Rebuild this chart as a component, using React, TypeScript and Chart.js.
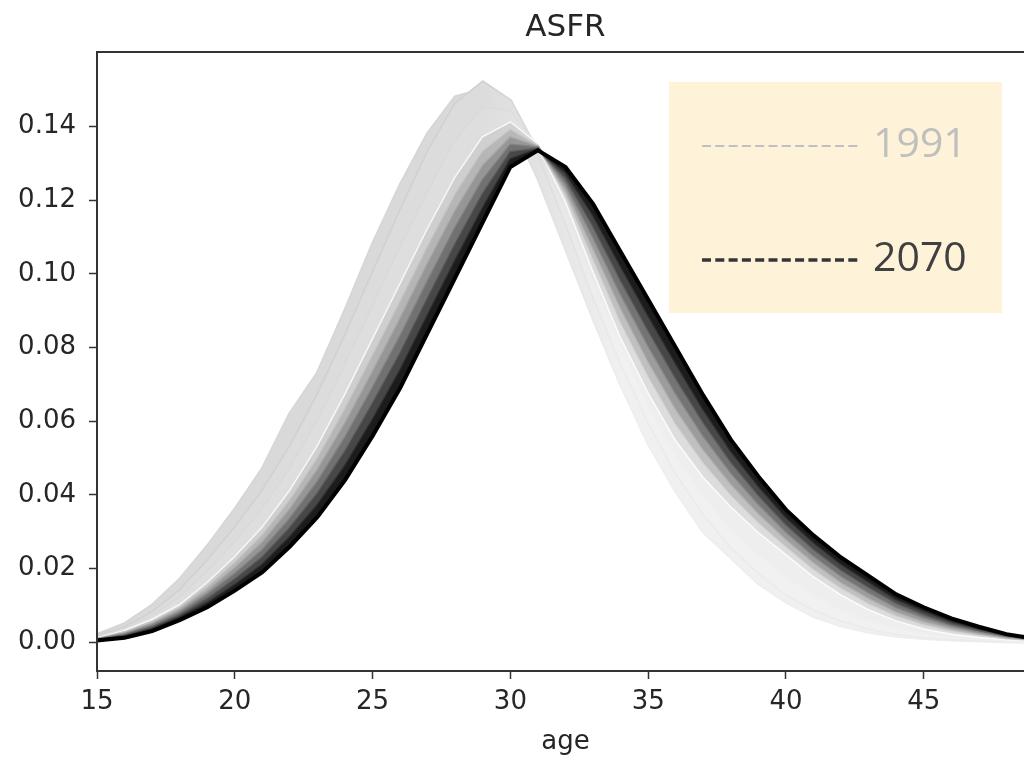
import React, { useEffect, useRef } from 'react';
import { Chart, registerables } from 'chart.js';

Chart.register(...registerables);

// ---- data ----
const ages = [15, 16, 17, 18, 19, 20, 21, 22, 23, 24, 25, 26, 27, 28, 29, 30, 31, 32, 33, 34, 35, 36, 37, 38, 39, 40, 41, 42, 43, 44, 45, 46, 47, 48, 49];
const xTicks = [15, 20, 25, 30, 35, 40, 45];
const yTicks = [0, 0.02, 0.04, 0.06, 0.08, 0.1, 0.12, 0.14];
const legendYears = ['1991', '2070'];

const asfr1991 = [0.002, 0.005, 0.010, 0.017, 0.026, 0.036, 0.047, 0.062, 0.073, 0.090, 0.108, 0.124, 0.138, 0.148, 0.150, 0.142, 0.126, 0.107, 0.088, 0.070, 0.054, 0.041, 0.030, 0.023, 0.016, 0.011, 0.007, 0.0045, 0.0028, 0.0017, 0.0011, 0.0007, 0.0004, 0.0002, 0.0001];
const asfr1995 = [0.0015, 0.004, 0.008, 0.014, 0.022, 0.031, 0.041, 0.053, 0.067, 0.083, 0.100, 0.117, 0.133, 0.146, 0.152, 0.147, 0.133, 0.114, 0.094, 0.076, 0.060, 0.046, 0.035, 0.026, 0.019, 0.013, 0.009, 0.006, 0.0038, 0.0024, 0.0015, 0.0009, 0.0006, 0.0003, 0.0002];
const asfr2000 = [0.0013, 0.0035, 0.007, 0.012, 0.019, 0.027, 0.036, 0.047, 0.060, 0.075, 0.091, 0.107, 0.122, 0.136, 0.145, 0.144, 0.134, 0.118, 0.099, 0.081, 0.065, 0.051, 0.040, 0.031, 0.024, 0.018, 0.013, 0.009, 0.006, 0.004, 0.0026, 0.0016, 0.001, 0.0006, 0.0003];
const asfr2005 = [0.001, 0.003, 0.006, 0.010, 0.016, 0.023, 0.031, 0.041, 0.053, 0.067, 0.082, 0.097, 0.112, 0.126, 0.137, 0.141, 0.135, 0.120, 0.101, 0.083, 0.068, 0.055, 0.045, 0.037, 0.030, 0.024, 0.018, 0.013, 0.009, 0.006, 0.0038, 0.0024, 0.0015, 0.0009, 0.0005];
const asfr2015 = [0.0009, 0.0027, 0.0055, 0.0093, 0.0149, 0.0215, 0.029, 0.0385, 0.0498, 0.0632, 0.0777, 0.0923, 0.1073, 0.1215, 0.1332, 0.139, 0.1347, 0.1215, 0.104, 0.0868, 0.0722, 0.0592, 0.0487, 0.040, 0.0325, 0.026, 0.0198, 0.0147, 0.0105, 0.0072, 0.0048, 0.0031, 0.002, 0.0011, 0.0006];
const asfr2025 = [0.0008, 0.0024, 0.005, 0.0087, 0.0138, 0.020, 0.027, 0.036, 0.0467, 0.0593, 0.0733, 0.0877, 0.1027, 0.117, 0.1293, 0.137, 0.1345, 0.123, 0.107, 0.0907, 0.0763, 0.0633, 0.0523, 0.043, 0.035, 0.028, 0.0217, 0.0163, 0.012, 0.0083, 0.0057, 0.0038, 0.0024, 0.0013, 0.0007];
const asfr2035 = [0.00075, 0.0021, 0.0045, 0.008, 0.0128, 0.0185, 0.025, 0.0335, 0.0435, 0.0555, 0.069, 0.083, 0.098, 0.1125, 0.1255, 0.135, 0.1343, 0.1245, 0.110, 0.0945, 0.0805, 0.0675, 0.056, 0.046, 0.0375, 0.030, 0.0235, 0.018, 0.0135, 0.0095, 0.0067, 0.0045, 0.0029, 0.0016, 0.0008];
const asfr2045 = [0.0007, 0.0018, 0.004, 0.0073, 0.0117, 0.017, 0.023, 0.031, 0.0403, 0.0517, 0.0647, 0.0783, 0.0933, 0.108, 0.1217, 0.133, 0.134, 0.126, 0.113, 0.0983, 0.0847, 0.0717, 0.0597, 0.049, 0.040, 0.032, 0.0253, 0.0197, 0.015, 0.0107, 0.0076, 0.0051, 0.0033, 0.0018, 0.0008];
const asfr2055 = [0.0006, 0.0015, 0.0035, 0.0067, 0.0106, 0.0155, 0.021, 0.0285, 0.0372, 0.0478, 0.0603, 0.0737, 0.0887, 0.1035, 0.1178, 0.131, 0.1338, 0.1275, 0.116, 0.1022, 0.0888, 0.0758, 0.0633, 0.052, 0.0425, 0.034, 0.0272, 0.0213, 0.0165, 0.0118, 0.0086, 0.0058, 0.0038, 0.002, 0.0009];
const asfr2070 = [0.0005, 0.0012, 0.003, 0.006, 0.0095, 0.014, 0.019, 0.026, 0.034, 0.044, 0.056, 0.069, 0.084, 0.099, 0.114, 0.129, 0.1335, 0.129, 0.119, 0.106, 0.093, 0.080, 0.067, 0.055, 0.045, 0.036, 0.029, 0.023, 0.018, 0.013, 0.0095, 0.0065, 0.0042, 0.0022, 0.001];

const seriesYears = ['1991', '1995', '2000', '2005', '2015', '2025', '2035', '2045', '2055', '2070'];
const series = [asfr1991, asfr1995, asfr2000, asfr2005, asfr2015, asfr2025, asfr2035, asfr2045, asfr2055, asfr2070];

// ---- styles ----
// [left-side colour, right-side colour] for each curve (faded on the falling side)
const lineColors: [string, string][] = [
  ['#d6d6d6', '#eeeeee'],
  ['#d1d1d1', '#ebebeb'],
  ['#d9d9d9', '#efefef'],
  ['#f7f7f7', '#fbfbfb'],
  ['#c6c6c6', '#d6d6d6'],
  ['#a6a6a6', '#b2b2b2'],
  ['#828282', '#8a8a8a'],
  ['#5a5a5a', '#5e5e5e'],
  ['#2e2e2e', '#2e2e2e'],
  ['#000000', '#000000'],
];
const fillColors: [string, string][] = [
  ['rgba(0,0,0,0)', 'rgba(0,0,0,0)'],
  ['#d9d9d9', '#f0f0f0'],
  ['#dcdcdc', '#f1f1f1'],
  ['#dedede', '#eeeeee'],
  ['#cfcfcf', '#dddddd'],
  ['#b6b6b6', '#c0c0c0'],
  ['#969696', '#9c9c9c'],
  ['#717171', '#747474'],
  ['#474747', '#474747'],
  ['#1c1c1c', '#1c1c1c'],
];
const lineWidths = [3.5, 3.5, 3.5, 3, 2.5, 2.5, 2.5, 2.5, 2.5, 4];
const fadeFromAge = 29;
const fadeToAge = 34;

const FONT = "'DejaVu Sans', sans-serif";
const CANVAS_W = 1100;
const CANVAS_H = 762;

function sideGradient(pair: [string, string]) {
  return (c: any) => {
    const chart = c.chart;
    if (!chart.chartArea || pair[0] === pair[1]) return pair[0];
    const xs = chart.scales.x;
    const g = chart.ctx.createLinearGradient(xs.getPixelForValue(fadeFromAge), 0, xs.getPixelForValue(fadeToAge), 0);
    g.addColorStop(0, pair[0]);
    g.addColorStop(1, pair[1]);
    return g;
  };
}

const framePlugin = {
  id: 'frame',
  afterDatasetsDraw(chart: any) {
    const { ctx, chartArea } = chart;
    ctx.save();
    ctx.strokeStyle = '#333333';
    ctx.lineWidth = 2;
    ctx.strokeRect(chartArea.left, chartArea.top, chartArea.right - chartArea.left, chartArea.bottom - chartArea.top);
    ctx.restore();
  },
};

const titlePlugin = {
  id: 'asfrTitle',
  afterDraw(chart: any) {
    const { ctx, chartArea } = chart;
    ctx.save();
    ctx.font = `31px ${FONT}`;
    ctx.fillStyle = '#262626';
    ctx.textAlign = 'center';
    ctx.textBaseline = 'alphabetic';
    ctx.fillText('ASFR', (chartArea.left + chartArea.right) / 2, 36);
    ctx.restore();
  },
};

const legendBoxPlugin = {
  id: 'legendBox',
  afterDraw(chart: any) {
    const { ctx } = chart;
    ctx.save();
    ctx.fillStyle = '#fef2d8';
    ctx.fillRect(669, 82, 333, 231);
    const rows = [
      { y: 146, base: 157, line: '#c0c0c0', textColor: '#bfbfbf', width: 2, text: legendYears[0] },
      { y: 260, base: 271, line: '#363636', textColor: '#404040', width: 3.5, text: legendYears[1] },
    ];
    rows.forEach((r) => {
      ctx.strokeStyle = r.line;
      ctx.lineWidth = r.width;
      ctx.setLineDash([9, 4.3]);
      ctx.beginPath();
      ctx.moveTo(702, r.y);
      ctx.lineTo(860, r.y);
      ctx.stroke();
      ctx.setLineDash([]);
      ctx.font = "41px 'Open Sans', sans-serif";
      ctx.fillStyle = r.textColor;
      ctx.textAlign = 'left';
      ctx.textBaseline = 'alphabetic';
      ctx.fillText(r.text, 873, r.base);
    });
    ctx.restore();
  },
};

export default function App() {
  const ref = useRef<HTMLCanvasElement | null>(null);

  useEffect(() => {
    if (!ref.current) return;
    const datasets = series.map((vals, i) => ({
      label: seriesYears[i],
      data: ages.map((a, j) => ({ x: a, y: vals[j] })),
      borderColor: sideGradient(lineColors[i]),
      borderWidth: lineWidths[i],
      backgroundColor: sideGradient(fillColors[i]),
      fill: i === 0 ? false : i - 1,
      pointRadius: 0,
      tension: 0,
      order: series.length - i,
    }));

    const chart = new Chart(ref.current, {
      type: 'line',
      data: { datasets } as any,
      plugins: [framePlugin, titlePlugin, legendBoxPlugin],
      options: {
        responsive: false,
        animation: false,
        devicePixelRatio: 1,
        layout: { padding: { left: 0, top: 52, right: CANVAS_W - 1034, bottom: 0 } },
        plugins: {
          legend: { display: false },
          title: { display: false },
          tooltip: { enabled: false },
        },
        scales: {
          x: {
            type: 'linear',
            min: 15,
            max: 49,
            afterBuildTicks: (s: any) => {
              s.ticks = xTicks.map((v) => ({ value: v }));
            },
            afterFit: (s: any) => {
              s.height = 91;
            },
            border: { display: false },
            grid: { drawOnChartArea: false, drawTicks: true, tickLength: 8, tickWidth: 1.5, tickColor: '#333333' },
            ticks: {
              padding: 8,
              color: '#262626',
              font: { family: FONT, size: 26 },
              maxRotation: 0,
              autoSkip: false,
              callback: (v: any) => String(v),
            },
            title: {
              display: true,
              text: 'age',
              color: '#262626',
              font: { family: FONT, size: 26 },
              padding: { top: 0, bottom: 4 },
            },
          },
          y: {
            type: 'linear',
            min: -0.0078,
            max: 0.1602,
            afterBuildTicks: (s: any) => {
              s.ticks = yTicks.map((v) => ({ value: v }));
            },
            afterFit: (s: any) => {
              s.width = 97;
            },
            border: { display: false },
            grid: { drawOnChartArea: false, drawTicks: true, tickLength: 8, tickWidth: 1.5, tickColor: '#333333' },
            ticks: {
              padding: 13,
              color: '#262626',
              font: { family: FONT, size: 26 },
              autoSkip: false,
              callback: (v: any) => Number(v).toFixed(2),
            },
          },
        },
      } as any,
    });
    return () => chart.destroy();
  }, []);

  return (
    <div style={{ position: 'fixed', left: 0, top: 0, width: 1024, height: 762, overflow: 'hidden', background: '#ffffff' }}>
      <canvas ref={ref} width={CANVAS_W} height={CANVAS_H} style={{ display: 'block', width: CANVAS_W, height: CANVAS_H }} />
    </div>
  );
}
